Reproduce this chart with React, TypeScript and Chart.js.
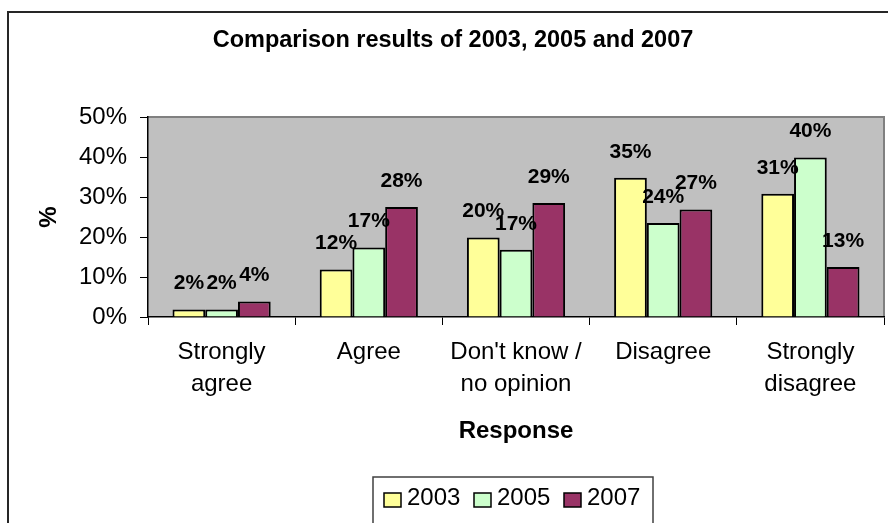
import React, { useEffect, useRef } from "react";
import { Chart, registerables } from "chart.js";

Chart.register(...registerables);

const categories: (string | string[])[] = [
  ["Strongly", "agree"],
  "Agree",
  ["Don't know /", "no opinion"],
  "Disagree",
  ["Strongly", "disagree"],
];
const seriesNames = ["2003", "2005", "2007"];
const values2003 = [1.9, 11.9, 19.9, 34.8, 30.8];
const values2005 = [1.9, 17.4, 16.8, 23.5, 39.9];
const values2007 = [3.9, 27.5, 28.5, 26.9, 12.5];
const yTicks = [0, 10, 20, 30, 40, 50];
const titleText = "Comparison results of 2003, 2005 and 2007";
const xTitle = "Response";
const yTitle = "%";

const FONT = "'Liberation Sans', Arial, sans-serif";
const fills = ["#FFFF99", "#CCFFCC", "#993366"];

const decor = {
  id: "decor",
  beforeDraw(chart: any) {
    const { ctx, chartArea: a } = chart;
    ctx.save();
    ctx.fillStyle = "#C0C0C0";
    ctx.fillRect(a.left, a.top, a.right - a.left, a.bottom - a.top);
    ctx.strokeStyle = "#808080";
    ctx.lineWidth = 2;
    ctx.beginPath();
    ctx.moveTo(a.left, a.top);
    ctx.lineTo(a.right, a.top);
    ctx.lineTo(a.right, a.bottom);
    ctx.stroke();
    // outer frame
    ctx.strokeStyle = "#262626";
    ctx.lineWidth = 2;
    ctx.strokeRect(8, 12, 900, 540);
    ctx.restore();
  },
  afterDatasetsDraw(chart: any) {
    const { ctx } = chart;
    ctx.save();
    ctx.fillStyle = "#000";
    ctx.font = `bold 21px ${FONT}`;
    ctx.textAlign = "center";
    ctx.textBaseline = "middle";
    chart.data.datasets.forEach((ds: any, i: number) => {
      const meta = chart.getDatasetMeta(i);
      meta.data.forEach((el: any, j: number) => {
        const v = ds.data[j] as number;
        ctx.fillText(Math.round(v) + "%", el.x, el.y - 26);
      });
    });
    ctx.restore();
  },
  afterDraw(chart: any) {
    const { ctx, chartArea: a } = chart;
    ctx.save();
    ctx.fillStyle = "#000";
    ctx.textAlign = "center";
    ctx.textBaseline = "middle";
    // title
    ctx.font = `bold 23.5px ${FONT}`;
    ctx.fillText(titleText, 453, 41);
    // x title
    ctx.font = `bold 24px ${FONT}`;
    ctx.fillText(xTitle, (a.left + a.right) / 2, 431);
    // y title
    ctx.save();
    ctx.translate(49, (a.top + a.bottom) / 2);
    ctx.rotate(-Math.PI / 2);
    ctx.fillText(yTitle, 0, 0);
    ctx.restore();
    // legend
    ctx.fillStyle = "#fff";
    ctx.fillRect(373, 477, 280, 60);
    ctx.strokeStyle = "#404040";
    ctx.lineWidth = 1.5;
    ctx.strokeRect(373, 477, 280, 60);
    ctx.font = `24px ${FONT}`;
    ctx.textAlign = "left";
    seriesNames.forEach((name, i) => {
      const bx = 384 + i * 90;
      ctx.fillStyle = fills[i];
      ctx.fillRect(bx, 493, 17, 14);
      ctx.strokeStyle = "#000";
      ctx.lineWidth = 1.5;
      ctx.strokeRect(bx, 493, 17, 14);
      ctx.fillStyle = "#000";
      ctx.fillText(name, bx + 23, 498);
    });
    ctx.restore();
  },
};

export default function App() {
  const ref = useRef<HTMLCanvasElement | null>(null);
  useEffect(() => {
    if (!ref.current) return;
    const seriesValues = [values2003, values2005, values2007];
    const chart = new Chart(ref.current, {
      type: "bar",
      data: {
        labels: categories,
        datasets: seriesNames.map((name, i) => ({
          label: name,
          data: seriesValues[i],
          backgroundColor: fills[i],
          borderColor: "#000",
          borderWidth: 2,
          borderSkipped: "start",
          categoryPercentage: 0.667,
          barPercentage: 1.0,
        })),
      },
      options: {
        animation: false,
        responsive: false,
        devicePixelRatio: 1,
        layout: { padding: { top: 117, right: 4, left: 0, bottom: 0 } },
        plugins: {
          legend: { display: false },
          title: { display: false },
          tooltip: { enabled: false },
        },
        scales: {
          x: {
            offset: true,
            grid: {
              offset: true,
              drawOnChartArea: false,
              drawTicks: true,
              tickLength: 8,
              color: "#000",
              lineWidth: 1,
            },
            border: { display: true, color: "#000", width: 1.5 },
            ticks: {
              font: { family: FONT, size: 24, lineHeight: 1.333 },
              color: "#000",
              padding: 11,
              maxRotation: 0,
              autoSkip: false,
            },
            afterFit: (s: any) => {
              s.height = 206;
            },
          },
          y: {
            min: 0,
            max: 50,
            afterBuildTicks: (s: any) => {
              s.ticks = yTicks.map((v) => ({ value: v }));
            },
            ticks: {
              callback: (v: any) => v + "%",
              font: { family: FONT, size: 24 },
              color: "#000",
              padding: 13,
            },
            grid: {
              drawOnChartArea: false,
              drawTicks: true,
              tickLength: 8,
              color: "#000",
              lineWidth: 1,
            },
            border: { display: true, color: "#000", width: 1.5 },
            afterFit: (s: any) => {
              s.width = 148;
            },
          },
        },
      },
      plugins: [decor],
    });
    return () => chart.destroy();
  }, []);
  return (
    <div
      style={{
        position: "fixed",
        left: 0,
        top: 0,
        width: 888,
        height: 523,
        background: "#fff",
        overflow: "hidden",
      }}
    >
      <canvas ref={ref} width={888} height={523} style={{ display: "block", width: 888, height: 523 }} />
    </div>
  );
}
